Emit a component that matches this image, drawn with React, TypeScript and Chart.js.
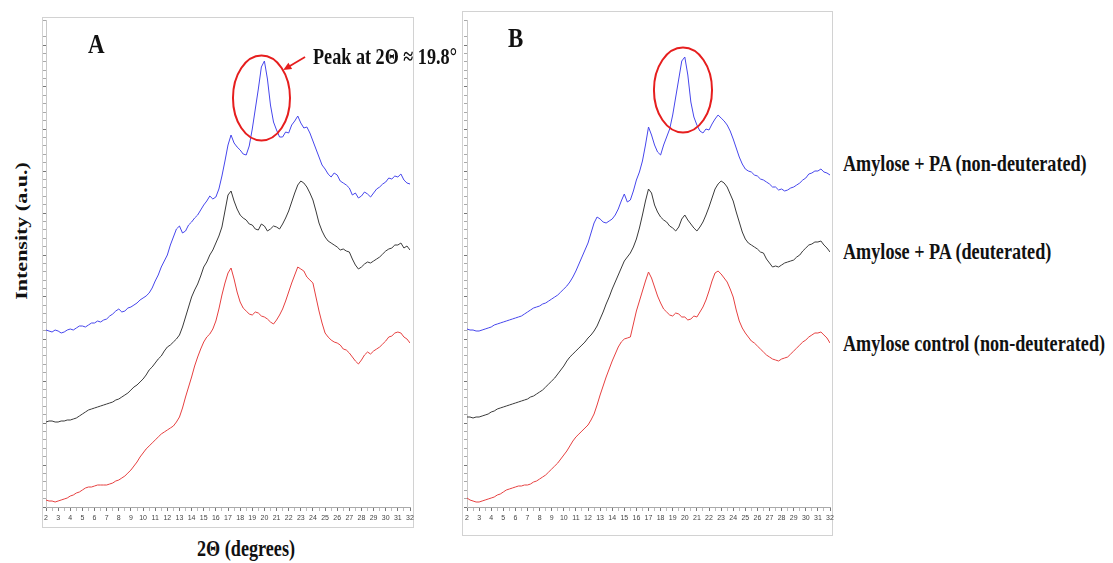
import React, { useEffect, useRef } from 'react';
import { Chart, registerables } from 'chart.js';
Chart.register(...registerables);

// 2θ grid (degrees), 0.25° steps
const TWO_THETA = [
  2, 2.25, 2.5, 2.75, 3, 3.25, 3.5, 3.75,
  4, 4.25, 4.5, 4.75, 5, 5.25, 5.5, 5.75,
  6, 6.25, 6.5, 6.75, 7, 7.25, 7.5, 7.75,
  8, 8.25, 8.5, 8.75, 9, 9.25, 9.5, 9.75,
  10, 10.25, 10.5, 10.75, 11, 11.25, 11.5, 11.75,
  12, 12.25, 12.5, 12.75, 13, 13.25, 13.5, 13.75,
  14, 14.25, 14.5, 14.75, 15, 15.25, 15.5, 15.75,
  16, 16.25, 16.5, 16.75, 17, 17.25, 17.5, 17.75,
  18, 18.25, 18.5, 18.75, 19, 19.25, 19.5, 19.75,
  20, 20.25, 20.5, 20.75, 21, 21.25, 21.5, 21.75,
  22, 22.25, 22.5, 22.75, 23, 23.25, 23.5, 23.75,
  24, 24.25, 24.5, 24.75, 25, 25.25, 25.5, 25.75,
  26, 26.25, 26.5, 26.75, 27, 27.25, 27.5, 27.75,
  28, 28.25, 28.5, 28.75, 29, 29.25, 29.5, 29.75,
  30, 30.25, 30.5, 30.75, 31, 31.25, 31.5, 31.75,
  32,
];

const SERIES_NAMES = [
  'Amylose + PA (non-deuterated)',
  'Amylose + PA (deuterated)',
  'Amylose control (non-deuterated)',
];

// Panel A intensities (a.u., offset-stacked)
const A_NON_DEUT = [
  177, 176, 175, 177, 176, 174, 175, 177,
  178, 177, 179, 181, 181, 180, 182, 184,
  184, 186, 185, 187, 188, 191, 193, 196,
  198, 195, 196, 199, 200, 202, 204, 207,
  209, 211, 214, 219, 226, 232, 240, 246,
  252, 262, 270, 278, 281, 274, 276, 282,
  285, 289, 292, 297, 302, 306, 311, 308,
  310, 318, 331, 346, 362, 372, 364, 360,
  357, 353, 352, 361, 378, 398, 418, 440,
  446, 428, 402, 385, 377, 370, 370, 375,
  374, 382, 386, 391, 384, 379, 380, 374,
  366, 358, 350, 342, 338, 333, 330, 334,
  332, 326, 324, 322, 319, 312, 314, 309,
  311, 315, 313, 310, 314, 318, 320, 323,
  325, 329, 328, 331, 330, 333, 327, 324,
  323,
];
const A_DEUT = [
  85, 86, 86, 85, 85, 86, 86, 87,
  87, 88, 89, 91, 93, 95, 97, 98,
  99, 100, 101, 102, 103, 104, 105, 107,
  108, 110, 112, 114, 117, 120, 122, 125,
  128, 132, 137, 140, 144, 148, 151, 156,
  160, 162, 165, 168, 172, 180, 190, 200,
  210, 217, 223, 231, 240, 245, 252, 257,
  264, 271, 280, 296, 312, 316, 306, 298,
  292, 289, 287, 283, 282, 278, 277, 283,
  281, 276, 278, 281, 280, 278, 283, 289,
  296, 305, 314, 322, 326, 324, 320, 314,
  307, 296, 284, 276, 270, 266, 264, 262,
  260, 257, 258, 256, 255, 248, 242, 238,
  240, 243, 245, 244, 246, 248, 250, 253,
  256, 258, 259, 262, 262, 264, 259, 261,
  257,
];
const A_CONTROL = [
  7, 6, 6, 5, 6, 7, 8, 9,
  11, 12, 14, 15, 17, 19, 20, 20,
  21, 22, 22, 22, 22, 23, 24, 26,
  27, 29, 31, 34, 37, 41, 45, 50,
  54, 58, 61, 64, 67, 70, 73, 75,
  77, 79, 81, 85, 90, 99, 110, 120,
  130, 141, 150, 158, 165, 170, 173, 178,
  186, 198, 212, 224, 234, 239, 228, 215,
  205, 199, 196, 193, 192, 195, 194, 191,
  190, 188, 185, 183, 187, 192, 198, 206,
  215, 224, 232, 240, 238, 236, 230, 227,
  224, 210, 196, 184, 174, 170, 167, 165,
  164, 162, 158, 157, 154, 150, 146, 143,
  147, 152, 155, 153, 156, 158, 160, 163,
  166, 170, 171, 174, 175, 174, 170, 168,
  164,
];

// Panel B intensities
const B_NON_DEUT = [
  178, 177, 177, 176, 176, 177, 178, 179,
  180, 182, 183, 184, 185, 186, 187, 188,
  189, 190, 191, 193, 195, 197, 199, 200,
  201, 203, 204, 206, 208, 210, 212, 215,
  218, 221, 225, 230, 236, 243, 250, 257,
  264, 274, 284, 290, 288, 285, 284, 286,
  288, 292, 298, 306, 313, 305, 307, 316,
  327, 335, 346, 362, 380, 372, 362, 355,
  352, 362, 370, 378, 392, 410, 428, 446,
  450, 432, 405, 390, 382, 376, 374, 378,
  377, 383, 388, 392, 389, 386, 382, 376,
  368, 359, 350, 343, 338, 336, 335, 332,
  331, 328, 327, 325, 323, 320, 320, 317,
  318, 316, 317, 319, 320, 322, 324, 327,
  329, 333, 334, 336, 336, 338, 335, 334,
  332,
];
const B_DEUT = [
  90, 90, 89, 90, 90, 91, 92, 93,
  95, 96, 98, 99, 100, 101, 102, 103,
  104, 105, 106, 107, 108, 110, 111, 113,
  115, 117, 120, 123, 126, 129, 133, 137,
  141, 146, 150, 153, 156, 159, 162, 165,
  169, 172, 176, 181, 188, 195, 203, 210,
  218, 225, 232, 239, 246, 250, 254, 260,
  268, 279, 292, 306, 318, 314, 302, 295,
  290, 287, 285, 281, 279, 276, 280, 288,
  292, 287, 283, 279, 276, 280, 285, 292,
  300, 309, 318, 323, 326, 324, 320, 313,
  306, 295, 285, 275, 268, 264, 262, 260,
  258, 255, 254, 248, 244, 240, 241, 240,
  242, 244, 245, 246, 247, 250, 252, 256,
  259, 262, 263, 265, 265, 266, 262, 259,
  255,
];
const B_CONTROL = [
  9, 7, 6, 5, 5, 6, 7, 8,
  9, 10, 12, 13, 15, 17, 18, 19,
  20, 21, 21, 22, 22, 23, 25, 26,
  28, 30, 32, 35, 38, 41, 44, 48,
  52, 56, 61, 66, 70, 73, 76, 79,
  82, 87, 93, 102, 112, 121, 130, 138,
  146, 153, 160, 165, 168, 169, 170, 183,
  196, 206, 216, 226, 235, 229, 220, 211,
  204, 198, 195, 192, 191, 194, 193, 190,
  190, 187, 188, 191, 190, 195, 200, 207,
  216, 226, 234, 236, 233, 229, 225, 218,
  210, 197, 186, 179, 174, 170, 166, 164,
  161, 158, 155, 152, 150, 148, 147, 146,
  148, 149, 150, 153, 156, 159, 162, 165,
  167, 170, 172, 174, 174, 175, 172, 169,
  164,
];

const X_MIN = 2;
const X_MAX = 32;
const Y_MAX = 487;

const COLORS = ['#4646ec', '#3a3a3a', '#e64040'];

const SERIF = "'Liberation Serif', 'Times New Roman', serif";

type Highlight = { theta: number; intensity: number; dTheta: number; dI: number };
type Arrow = { fromTheta: number; fromI: number; toTheta: number; toI: number };

type PanelProps = {
  left: number;
  top: number;
  width: number;
  height: number;
  pad: { left: number; right: number; top: number };
  xHeight: number;
  box: { x: number; y: number; w: number; h: number };
  series: number[][];
  highlight: Highlight;
  arrow?: Arrow;
};

function Panel(props: PanelProps) {
  const ref = useRef<HTMLCanvasElement | null>(null);
  useEffect(() => {
    if (!ref.current) return;
    const { box, highlight, arrow } = props;
    const boxPlugin = {
      id: 'box',
      beforeDraw(chart: any) {
        const ctx = chart.ctx;
        ctx.save();
        ctx.strokeStyle = '#d2d2d2';
        ctx.lineWidth = 1;
        ctx.strokeRect(box.x + 0.5, box.y + 0.5, box.w, box.h);
        ctx.restore();
      },
    };
    const annotPlugin = {
      id: 'annot',
      afterDatasetsDraw(chart: any) {
        const ctx = chart.ctx;
        const xs = chart.scales.x;
        const ys = chart.scales.y;
        const cx = xs.getPixelForValue(highlight.theta);
        const cy = ys.getPixelForValue(highlight.intensity);
        const rx = Math.abs(xs.getPixelForValue(highlight.theta + highlight.dTheta) - cx);
        const ry = Math.abs(ys.getPixelForValue(highlight.intensity + highlight.dI) - cy);
        ctx.save();
        ctx.strokeStyle = '#e61e1e';
        ctx.lineWidth = 2;
        ctx.beginPath();
        ctx.ellipse(cx, cy, rx, ry, 0, 0, Math.PI * 2);
        ctx.stroke();
        if (arrow) {
          const x1 = xs.getPixelForValue(arrow.fromTheta);
          const y1 = ys.getPixelForValue(arrow.fromI);
          const x2 = xs.getPixelForValue(arrow.toTheta);
          const y2 = ys.getPixelForValue(arrow.toI);
          const ang = Math.atan2(y2 - y1, x2 - x1);
          const hl = 9;
          ctx.lineWidth = 1.8;
          ctx.beginPath();
          ctx.moveTo(x1, y1);
          ctx.lineTo(x2 - Math.cos(ang) * hl * 0.7, y2 - Math.sin(ang) * hl * 0.7);
          ctx.stroke();
          ctx.fillStyle = '#e61e1e';
          ctx.beginPath();
          ctx.moveTo(x2, y2);
          ctx.lineTo(x2 - hl * Math.cos(ang - 0.42), y2 - hl * Math.sin(ang - 0.42));
          ctx.lineTo(x2 - hl * Math.cos(ang + 0.42), y2 - hl * Math.sin(ang + 0.42));
          ctx.closePath();
          ctx.fill();
        }
        ctx.restore();
      },
    };
    const chart = new Chart(ref.current, {
      type: 'line',
      data: {
        datasets: props.series.map((vals, i) => ({
          label: SERIES_NAMES[i],
          data: TWO_THETA.map((t, j) => ({ x: t, y: vals[j] })),
          borderColor: COLORS[i],
          borderWidth: 1,
          pointRadius: 0,
          tension: 0,
          fill: false,
        })),
      },
      options: {
        animation: false,
        responsive: false,
        devicePixelRatio: 1,
        layout: { padding: { left: props.pad.left, right: props.pad.right, top: props.pad.top, bottom: 0 } },
        plugins: { legend: { display: false }, tooltip: { enabled: false } },
        scales: {
          x: {
            type: 'linear',
            min: X_MIN,
            max: X_MAX,
            ticks: {
              stepSize: 0.5,
              autoSkip: false,
              maxRotation: 0,
              minRotation: 0,
              padding: 3,
              color: '#444',
              font: { size: 7, family: "'Liberation Sans', Arial, sans-serif" },
              callback: (v: any) => (Number.isInteger(v) ? String(v) : ''),
            },
            grid: {
              drawOnChartArea: false,
              tickLength: 4,
              color: (c: any) => (c.tick && Number.isInteger(c.tick.value) ? '#777' : '#bbb'),
            },
            border: { color: '#aaa' },
            afterFit: (s: any) => {
              s.height = props.xHeight;
            },
          },
          y: {
            type: 'linear',
            min: 0,
            max: Y_MAX,
            ticks: { display: false, stepSize: 8.4 },
            grid: {
              drawOnChartArea: false,
              tickLength: 3,
              color: (c: any) => (c.index % 5 === 0 ? '#777' : '#aaa'),
            },
            border: { color: '#c8c8c8' },
            afterFit: (s: any) => {
              s.width = 0;
            },
          },
        },
      },
      plugins: [boxPlugin, annotPlugin],
    } as any);
    return () => chart.destroy();
  }, []);
  return (
    <canvas
      ref={ref}
      width={props.width}
      height={props.height}
      style={{ position: 'absolute', left: props.left, top: props.top, width: props.width, height: props.height }}
    />
  );
}

const labelStyle = (left: number, top: number, size = 23, sx = 0.79): React.CSSProperties => ({
  position: 'absolute',
  left,
  top,
  fontFamily: SERIF,
  fontWeight: 'bold',
  fontSize: size,
  lineHeight: 1,
  whiteSpace: 'nowrap',
  color: '#111',
  transform: `scaleX(${sx})`,
  transformOrigin: 'left center',
  zIndex: 2,
});

export default function App() {
  return (
    <div style={{ position: 'absolute', left: 0, top: 0, width: 1113, height: 563, background: '#fff', overflow: 'hidden' }}>
      <Panel
        left={36}
        top={14}
        width={384}
        height={518}
        pad={{ left: 10, right: 10, top: 6 }}
        xHeight={25}
        box={{ x: 6, y: 3, w: 371, h: 510 }}
        series={[A_NON_DEUT, A_DEUT, A_CONTROL]}
        highlight={{ theta: 19.76, intensity: 409, dTheta: 2.35, dI: 42.5 }}
        arrow={{ fromTheta: 23.35, fromI: 450, toTheta: 21.55, toI: 437 }}
      />
      <Panel
        left={456}
        top={8}
        width={384}
        height={532}
        pad={{ left: 11, right: 10, top: 12 }}
        xHeight={33}
        box={{ x: 6, y: 3, w: 370, h: 524 }}
        series={[B_NON_DEUT, B_DEUT, B_CONTROL]}
        highlight={{ theta: 19.85, intensity: 417, dTheta: 2.4, dI: 42.5 }}
      />
      <div style={labelStyle(88, 31, 27, 0.85)}>A</div>
      <div style={labelStyle(508, 25, 27, 0.85)}>B</div>
      <div style={labelStyle(313, 44.5)}>Peak at 2Θ ≈ 19.8°</div>
      <div style={labelStyle(843, 151.5)}>{SERIES_NAMES[0]}</div>
      <div style={labelStyle(843, 239.5)}>{SERIES_NAMES[1]}</div>
      <div style={labelStyle(843, 331.5)}>{SERIES_NAMES[2]}</div>
      <div style={labelStyle(197, 536.5)}>2Θ (degrees)</div>
      <div
        style={{
          position: 'absolute',
          left: 21,
          top: 231,
          fontFamily: SERIF,
          fontWeight: 'bold',
          fontSize: 22,
          lineHeight: 1,
          whiteSpace: 'nowrap',
          color: '#111',
          transform: 'translate(-50%, -50%) rotate(-90deg) scaleY(0.79)',
          zIndex: 2,
        }}
      >
        Intensity (a.u.)
      </div>
    </div>
  );
}
